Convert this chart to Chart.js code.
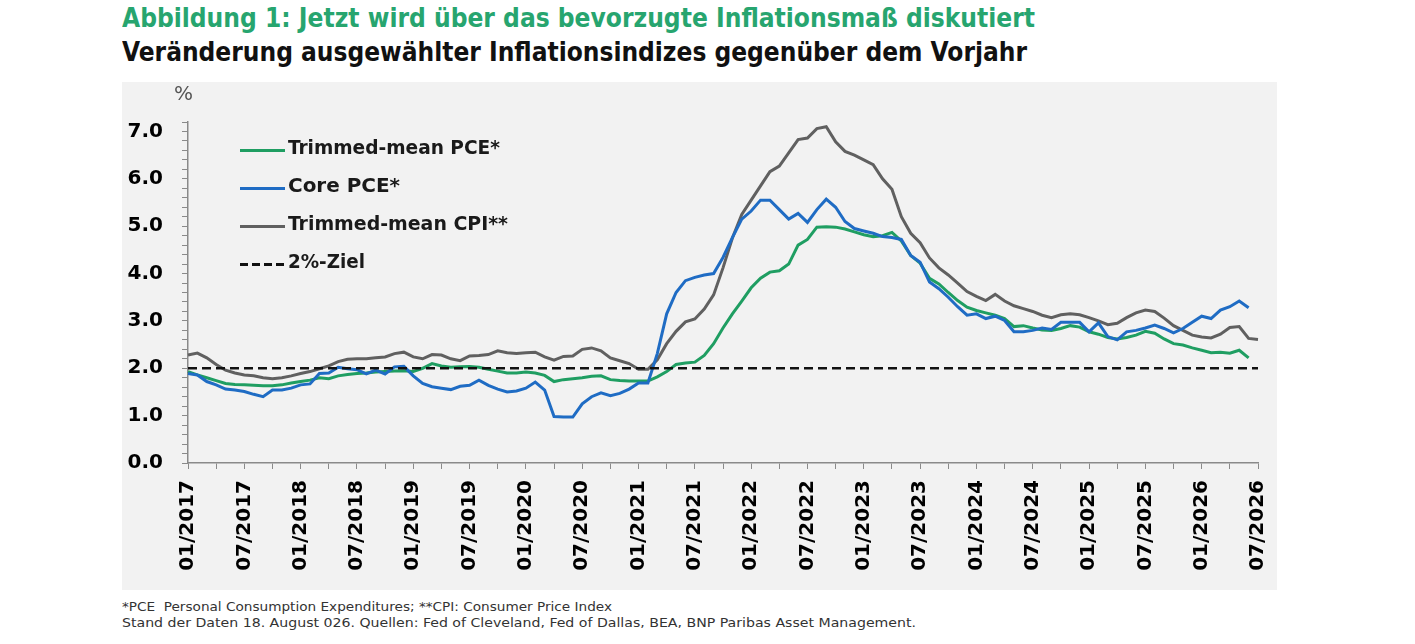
<!DOCTYPE html>
<html><head><meta charset="utf-8">
<script src="https://cdn.jsdelivr.net/npm/chart.js@4"></script>
<style>
html,body{margin:0;padding:0}
body{width:1415px;height:644px;background:#fff;position:relative;overflow:hidden;font-family:"DejaVu Sans",sans-serif}
.fit{position:absolute;white-space:nowrap;transform-origin:0 0;}
#title{left:122px;top:5px;font-size:26px;line-height:26px;font-weight:bold;font-stretch:condensed;color:#27a56f}
#subtitle{left:122px;top:39px;font-size:26px;line-height:26px;font-weight:bold;font-stretch:condensed;color:#111}
#panel{position:absolute;left:122px;top:82px;width:1155px;height:508px;background:#f2f2f2}
#pct{position:absolute;left:174px;top:83px;font-size:20px;line-height:20px;color:#555}
.foot{left:122px;font-size:13px;line-height:13px;color:#333;font-stretch:condensed}
.lgline{position:absolute;left:240px;width:45px;height:3px}
.lgtext{font-size:20px;line-height:20px;font-weight:bold;color:#1a1a1a;font-stretch:condensed}
</style></head>
<body>
<div id="title" class="fit">Abbildung 1: Jetzt wird über das bevorzugte Inflationsmaß diskutiert</div>
<div id="subtitle" class="fit">Veränderung ausgewählter Inflationsindizes gegenüber dem Vorjahr</div>
<div id="panel"><canvas id="c"></canvas></div>
<div id="pct">%</div>
<div id="legend"></div>
<div id="foot1" class="fit foot" style="top:600px">*PCE&nbsp; Personal Consumption Expenditures; **CPI: Consumer Price Index</div>
<div id="foot2" class="fit foot" style="top:616px">Stand der Daten 18. August 026. Quellen: Fed of Cleveland, Fed of Dallas, BEA, BNP Paribas Asset Management.</div>
<script>
// ---- data ----
const startYear = 2017, monthCount = 115; // 01/2017 .. 07/2026
const categories = [];
for (let i = 0; i < monthCount; i++) {
  const m = i % 12 + 1, y = startYear + Math.floor(i / 12);
  categories.push((m < 10 ? '0' : '') + m + '/' + y);
}
const seriesNames = ['Trimmed-mean PCE*', 'Core PCE*', 'Trimmed-mean CPI**', '2%-Ziel'];
const trimmedPCE = [
 1.93,1.86,1.80,1.74,1.68,1.66,1.65,1.64,1.63,1.63,
 1.65,1.69,1.72,1.75,1.80,1.78,1.84,1.87,1.89,1.90,
 1.92,1.93,1.94,1.95,1.93,2.00,2.10,2.05,2.02,2.03,
 2.04,2.02,1.98,1.94,1.90,1.90,1.92,1.90,1.85,1.72,
 1.76,1.78,1.80,1.83,1.84,1.76,1.74,1.73,1.73,1.73,
 1.82,1.93,2.08,2.11,2.13,2.27,2.52,2.85,3.15,3.42,
 3.70,3.90,4.03,4.06,4.20,4.60,4.72,4.98,4.99,4.98,
 4.94,4.88,4.82,4.78,4.80,4.87,4.69,4.38,4.22,3.90,
 3.78,3.60,3.43,3.29,3.22,3.17,3.12,3.05,2.88,2.90,
 2.85,2.81,2.80,2.84,2.90,2.87,2.77,2.72,2.65,2.62,
 2.65,2.70,2.78,2.74,2.62,2.52,2.49,2.43,2.38,2.33,
 2.34,2.32,2.38,2.22,null];
const corePCE = [
 1.89,1.86,1.72,1.65,1.56,1.54,1.51,1.45,1.40,1.54,
 1.54,1.58,1.65,1.67,1.89,1.90,2.02,1.99,1.97,1.88,
 1.96,1.88,2.03,2.04,1.84,1.68,1.61,1.58,1.55,1.62,
 1.64,1.75,1.64,1.56,1.50,1.52,1.58,1.71,1.54,0.98,
 0.97,0.97,1.25,1.40,1.48,1.42,1.47,1.56,1.69,1.69,
 2.31,3.15,3.60,3.85,3.92,3.97,4.00,4.34,4.76,5.15,
 5.32,5.55,5.55,5.35,5.15,5.27,5.08,5.35,5.57,5.40,
 5.10,4.95,4.90,4.85,4.78,4.76,4.72,4.38,4.24,3.82,
 3.68,3.50,3.30,3.12,3.15,3.05,3.10,3.01,2.77,2.77,
 2.80,2.85,2.82,2.97,2.97,2.97,2.77,2.96,2.67,2.60,
 2.77,2.80,2.85,2.91,2.84,2.75,2.84,2.97,3.10,3.05,
 3.23,3.30,3.42,3.28,null];
const trimmedCPI = [
 2.28,2.32,2.22,2.08,1.96,1.90,1.86,1.84,1.80,1.78,
 1.80,1.84,1.89,1.93,1.99,2.05,2.14,2.19,2.20,2.20,
 2.22,2.24,2.31,2.34,2.24,2.20,2.29,2.28,2.20,2.16,
 2.26,2.27,2.29,2.37,2.33,2.31,2.33,2.34,2.24,2.17,
 2.25,2.26,2.40,2.43,2.37,2.22,2.16,2.10,1.98,1.98,
 2.18,2.52,2.78,2.98,3.04,3.25,3.55,4.12,4.75,5.25,
 5.55,5.85,6.15,6.27,6.55,6.83,6.86,7.06,7.10,6.78,
 6.58,6.50,6.40,6.30,6.00,5.78,5.20,4.85,4.65,4.33,
 4.12,3.97,3.80,3.62,3.52,3.43,3.56,3.42,3.32,3.26,
 3.20,3.12,3.07,3.13,3.15,3.13,3.07,3.00,2.92,2.95,
 3.07,3.17,3.23,3.20,3.06,2.90,2.80,2.70,2.66,2.64,
 2.72,2.86,2.88,2.63,2.61];
const targetRate = 2.0;
const yTickMin = 0, yTickMax = 7.2, yTickStep = 0.2;

// ---- style ----
const COLORS = ['#1f9e62', '#1f6cc4', '#606060', '#111111'];
const FONT = 'DejaVu Sans';

const targetLine = {
  id: 'targetLine',
  afterDatasetsDraw(chart) {
    const {ctx, chartArea, scales} = chart;
    const py = scales.y.getPixelForValue(targetRate);
    ctx.save();
    ctx.strokeStyle = COLORS[3];
    ctx.lineWidth = 2.5;
    ctx.setLineDash([9, 5]);
    ctx.beginPath();
    ctx.moveTo(chartArea.left, py);
    ctx.lineTo(chartArea.right, py);
    ctx.stroke();
    ctx.restore();
  }
};

new Chart(document.getElementById('c'), {
  type: 'line',
  data: {
    labels: categories,
    datasets: [
      {label: seriesNames[0], data: trimmedPCE, borderColor: COLORS[0], order: 3},
      {label: seriesNames[1], data: corePCE, borderColor: COLORS[1], order: 1},
      {label: seriesNames[2], data: trimmedCPI, borderColor: COLORS[2], order: 2}
    ].map(d => Object.assign(d, {borderWidth: 3, pointRadius: 0, tension: 0, fill: false, spanGaps: false}))
  },
  options: {
    responsive: true, maintainAspectRatio: false, animation: false,
    layout: {padding: {top: 40, right: 19, left: 0, bottom: 0}},
    plugins: {legend: {display: false}, tooltip: {enabled: false}},
    scales: {
      x: {
        type: 'category',
        grid: {drawOnChartArea: false, tickLength: 6,
               color: c => (c.index % 3 === 0 ? '#8a8a8a' : 'rgba(0,0,0,0)'), lineWidth: 1},
        border: {color: '#8a8a8a', width: 1.5},
        ticks: {autoSkip: false, maxRotation: 90, minRotation: 90, padding: 11, color: '#000',
                font: {family: FONT, weight: 'bold', size: 20},
                callback: (v, i) => (i % 6 === 0 ? categories[i] : '')},
        afterFit: s => { s.height = 127; s.paddingRight = 0; s.paddingLeft = 0; }
      },
      y: {
        min: yTickMin, max: yTickMax,
        grid: {drawOnChartArea: false, tickLength: 6, color: '#8a8a8a', lineWidth: 1},
        border: {color: '#8a8a8a', width: 1.5},
        ticks: {stepSize: yTickStep, autoSkip: false, padding: 19, color: '#000',
                font: {family: FONT, weight: 'bold', size: 20},
                callback: v => (Math.abs(v - Math.round(v)) < 1e-6 ? v.toFixed(1) : '')},
        afterFit: s => { s.width = 66; s.paddingTop = 0; s.paddingBottom = 0; }
      }
    }
  },
  plugins: [targetLine]
});

// ---- legend (HTML, inside plot) ----
const legendRows = [150, 188, 226, 264];
const legendTargets = [212, 112, 220, 77];
const legend = document.getElementById('legend');
seriesNames.forEach((name, i) => {
  const ln = document.createElement('div');
  ln.className = 'lgline';
  ln.style.top = (legendRows[i] - 1.5) + 'px';
  ln.style.background = i === 3
    ? 'repeating-linear-gradient(to right,#111 0 8px,transparent 8px 12px)'
    : COLORS[i];
  legend.appendChild(ln);
  const tx = document.createElement('div');
  tx.className = 'fit lgtext';
  tx.textContent = name;
  tx.style.left = '288px';
  tx.style.top = (legendRows[i] - 13) + 'px';
  tx.dataset.w = legendTargets[i];
  legend.appendChild(tx);
});

function fit(el, w) {
  el.style.transform = 'none';
  const r = el.getBoundingClientRect().width;
  if (r > 0) el.style.transform = 'scaleX(' + (w / r) + ')';
}
function fitAll() {
  fit(document.getElementById('title'), 913);
  fit(document.getElementById('subtitle'), 905);
  fit(document.getElementById('foot1'), 490);
  fit(document.getElementById('foot2'), 794);
  document.querySelectorAll('.lgtext').forEach(el => fit(el, +el.dataset.w));
}
fitAll();
if (document.fonts && document.fonts.ready) document.fonts.ready.then(fitAll);
</script>
</body></html>
